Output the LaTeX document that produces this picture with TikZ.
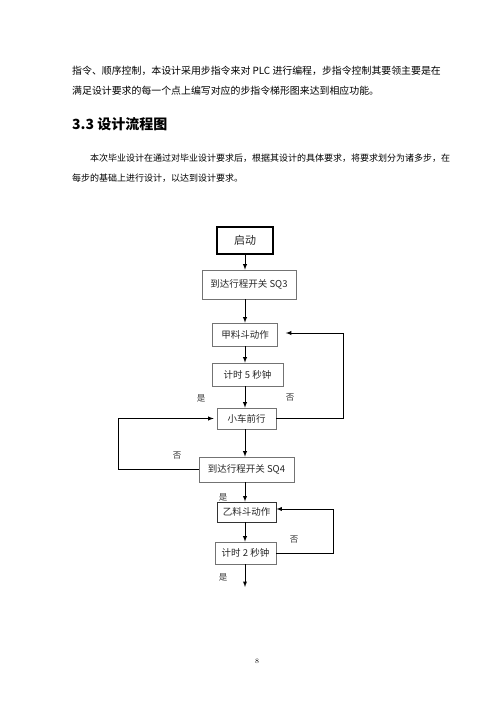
\documentclass[tikz,border=0pt]{standalone}
\usepackage{fontspec}
\newfontfamily\cjk{Noto Sans CJK SC}
\usetikzlibrary{positioning}

\tikzset{
  stepbox/.style={draw=black!55, line width=0.6pt, font=\cjk\fontsize{9.5}{11}\selectfont,
    text=black!85, inner sep=0pt, minimum height=#1},
  stepbox/.default=23pt,
  flow/.style={->, >=latex, line width=0.9pt},
  yesno/.style={font=\cjk\fontsize{8.5}{9}\selectfont, text=black!80},
  bodyline/.style={anchor=west, font=\cjk\fontsize{#1}{#1}\selectfont, inner sep=0pt},
}

\begin{document}
\begin{tikzpicture}[x=1pt, y=-1pt] % one unit per pixel of the page

  \useasboundingbox (0,0) rectangle (500,707);

  % Text of the page
  \node (pi) [bodyline=9.9] at (72,71) {指令、顺序控制，本设计采用步指令来对 PLC 进行编程，步指令控制其要领主要是在};
  \node (pii) [bodyline=9.9] at (72,91) {满足设计要求的每一个点上编写对应的步指令梯形图来达到相应功能。};
  \node (head) [anchor=west, font=\cjk\bfseries\fontsize{14}{14}\selectfont, inner sep=0pt] at (72,124) {3.3\ 设计流程图};
  \node (piii) [bodyline=9] at (90,158) {本次毕业设计在通过对毕业设计要求后，根据其设计的具体要求，将要求划分为诸多步，在};
  \node (piv) [bodyline=9] at (72,178) {每步的基础上进行设计，以达到设计要求。};
  \node (page) [font=\fontsize{7}{7}\selectfont] at (257,661) {8};

  % Steps of the flow chart
  \node (start) [stepbox=27pt, draw=black, line width=1.5pt, minimum width=56pt,
    font=\cjk\fontsize{11}{12}\selectfont] at (245,240.5) {启动};
  \node (sqiii) [stepbox=29pt, minimum width=94pt] at (249,284.5) {到达行程开关 SQ3};
  \node (jia) [stepbox, minimum width=65pt] at (245,334.5) {甲料斗动作};
  \node (tv) [stepbox, minimum width=71pt] at (247.5,374.5) {计时 5 秒钟};
  \node (car) [stepbox=21pt, minimum width=59pt] at (246.5,418.5) {小车前行};
  \node (sqiv) [stepbox=25pt, minimum width=95pt] at (246.5,469.5) {到达行程开关 SQ4};
  \node (yi) [stepbox=20pt, minimum width=59pt, draw=black!80, line width=0.9pt] at (246.5,512) {乙料斗动作};
  \node (tii) [stepbox=22pt, minimum width=61pt] at (245.5,553) {计时 2 秒钟};
  \coordinate (done) at (245,587);

  % Straight steps down
  \draw [flow] (start.south) -- (start.south |- sqiii.north);
  \draw [flow] (start.south |- sqiii.south) -- (start.south |- jia.north);
  \draw [flow] (jia.south) -- (jia.south |- tv.north);
  \draw [flow] (jia.south |- tv.south) -- (jia.south |- car.north);
  \draw [flow] (jia.south |- car.south) -- (jia.south |- sqiv.north);
  \draw [flow] (jia.south |- sqiv.south) -- (jia.south |- yi.north);
  \draw [flow] (jia.south |- yi.south) -- (jia.south |- tii.north);
  \draw [flow] (jia.south |- tii.south) -- (done);

  % Loops back
  \draw [flow] (car.east) -- ++(67,0) |- ([xshift=8pt, yshift=1.5pt]jia.east);
  \draw [flow] (sqiv.west) -- ++(-80,0) |- ([xshift=-3pt]car.west);
  \draw [flow] (tii.east) -- ++(57,0) |- ([yshift=3pt]yi.east);

  % Yes and no
  \node (yesi) [yesno] at (201,398) {是};
  \node (noi) [yesno] at (290,398) {否};
  \node (noii) [yesno] at (177,456) {否};
  \node (yesii) [yesno] at (223,497) {是};
  \node (noiii) [yesno] at (294,540) {否};
  \node (yesiii) [yesno] at (223,577) {是};

\end{tikzpicture}
\end{document}
